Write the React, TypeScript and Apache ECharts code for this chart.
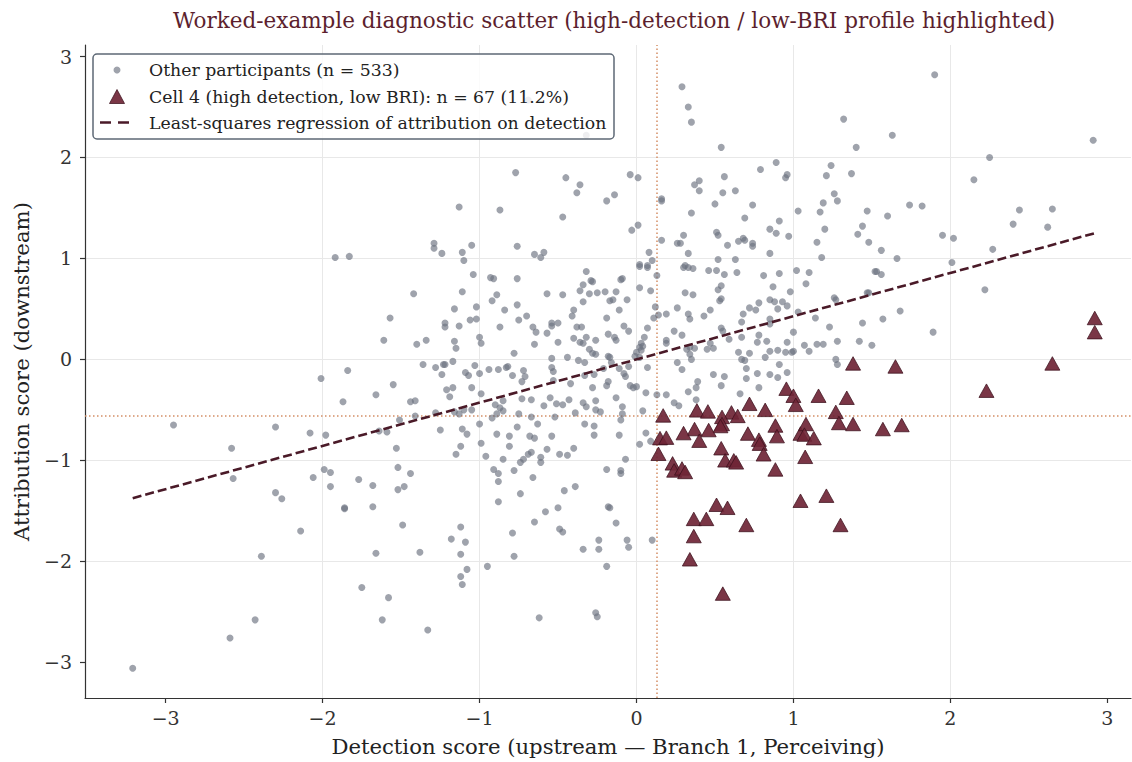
import React, { useEffect, useRef } from "react";
import * as echarts from "echarts";

const titleText =
  "Worked-example diagnostic scatter (high-detection / low-BRI profile highlighted)";
const xAxisName = "Detection score (upstream \u2014 Branch 1, Perceiving)";
const yAxisName = "Attribution score (downstream)";
const legendLabels = [
  "Other participants (n = 533)",
  "Cell 4 (high detection, low BRI): n = 67 (11.2%)",
  "Least-squares regression of attribution on detection",
];

const xTicks = [-3, -2, -1, 0, 1, 2, 3];
const yTicks = [-3, -2, -1, 0, 1, 2, 3];

const detectionCut = 0.134;
const attributionCut = -0.561;

const regressionX = [-3.21, 2.92];
const regressionY = [-1.375, 1.25];

// Other participants (grey circles)
const otherPoints: number[][] = [
  [-0.77,1.85],[-0.45,1.80],[-0.36,1.73],[-0.38,1.65],[-0.19,1.57],[-1.13,1.51],[-0.87,1.48],[-0.47,1.41],[-1.29,1.15],[-1.29,1.10],[-1.24,1.05],[-1.11,1.06],[-1.10,0.98],[-1.05,1.13],[-0.76,1.12],[-0.65,1.04],[-0.61,1.01],[-0.59,1.06],[-1.83,1.02],[-0.69,2.57],[-0.32,2.22],
  [-1.92,1.01],
  [0.29,2.70],[0.33,2.50],[0.35,2.35],[0.54,2.10],[-0.04,1.83],[0.01,1.80],[-0.14,1.63],[0.16,1.59],[0.16,1.57],[0.37,1.73],[0.40,1.77],[0.40,1.67],[0.56,1.81],[0.55,1.65],[0.63,1.67],[0.50,1.54],[0.74,1.53],[0.79,1.88],[0.89,1.95],[0.95,1.80],[0.96,1.83],[0.35,1.45],[0.69,1.40],[1.03,1.47],[-0.03,1.28],[0.01,1.33],[0.51,1.26],[0.52,1.23],[0.30,1.23],[0.26,1.15],[0.28,1.15],[0.16,1.18],[0.33,1.05],[0.08,1.06],[0.10,0.98],[0.02,0.94],[0.07,0.93],[0.31,0.93],[0.58,1.13],[0.65,1.17],[0.68,1.20],[0.69,1.18],[0.74,1.15],[0.74,1.12],[0.85,1.29],[0.89,1.25],[0.91,1.37],[0.97,1.22],[0.85,1.05],[0.52,0.99],[0.63,0.99],[1.17,1.46],[1.19,1.55],[1.21,1.82],[1.24,1.92],[1.37,1.84],[1.32,2.38],[1.40,2.10],[1.26,1.64],[1.28,1.57],[1.47,1.47],[1.20,1.29],[1.15,1.16],[1.18,1.01],[1.41,1.24],[1.44,1.32],[1.48,1.16],
  [1.90,2.82],[1.63,2.22],[2.91,2.17],[2.25,2.00],[2.15,1.78],[1.60,1.42],[1.74,1.53],[1.82,1.52],[1.56,1.08],[1.66,1.00],[1.95,1.23],[2.02,1.20],[2.01,0.96],[2.40,1.34],[2.44,1.48],[2.65,1.49],[2.62,1.31],[2.27,1.09],
  [-2.01,-0.19],[-1.84,-0.11],[-1.87,-0.42],[-2.95,-0.65],[-2.30,-0.67],[-2.08,-0.73],[-1.98,-0.75],[-2.58,-0.88],[-1.99,-1.09],[-1.95,-1.12],[-2.06,-1.17],[-2.57,-1.18],
  [-1.95,-1.26],[-2.30,-1.32],[-2.26,-1.38],[-1.86,-1.48],[-2.14,-1.70],[-2.39,-1.95],[-2.43,-2.58],[-2.59,-2.76],[-3.21,-3.06],
  [-1.04,0.84],[-0.93,0.81],[-0.91,0.80],[-0.76,0.80],[-1.42,0.65],[-1.11,0.67],[-0.89,0.64],[-0.92,0.58],[-0.76,0.54],[-0.57,0.65],[-0.47,0.64],[-0.32,0.87],[-0.34,0.74],[-0.29,0.78],[-0.28,0.77],[-0.36,0.68],[-0.30,0.65],[-0.25,0.66],[-0.20,0.67],[-0.34,0.57],[-1.16,0.50],[-1.02,0.52],[-0.84,0.49],[-0.70,0.43],[-0.75,0.39],[-1.57,0.41],[-1.22,0.36],[-1.22,0.32],[-1.13,0.33],[-1.06,0.39],[-1.02,0.40],[-0.87,0.32],[-0.66,0.32],[-0.64,0.27],[-0.54,0.36],[-0.54,0.33],[-0.50,0.36],[-0.57,0.26],[-0.40,0.49],[-0.41,0.43],[-0.38,0.32],[-0.35,0.32],[-0.19,0.41],[-0.18,0.25],[-1.61,0.19],[-1.40,0.15],[-1.34,0.19],[-1.16,0.18],[-1.15,0.11],[-1.00,0.22],[-0.99,0.16],[-0.65,0.15],[-0.50,0.17],[-0.40,0.21],[-0.36,0.17],[-0.34,0.16],[-0.32,0.22],[-0.26,0.19],[-0.30,0.10],[-0.28,0.06],[-0.26,0.05],[-0.18,0.03],[-0.78,0.06],[-0.54,0.01],[-0.44,0.02],[-0.37,-0.01],[-0.33,-0.03],[-1.36,-0.05],[-1.28,-0.08],[-1.23,-0.05],[-1.22,-0.05],[-1.17,-0.02],[-1.24,-0.15],[-1.09,-0.13],[-1.07,-0.16],[-1.03,-0.06],[-1.00,-0.14],[-0.94,-0.10],[-0.88,-0.10],[-0.83,-0.08],[-0.82,-0.07],[-0.79,-0.16],[-0.72,-0.11],[-0.71,-0.17],[-0.73,-0.22],[-0.54,-0.08],[-0.53,-0.12],[-0.53,-0.21],[-0.33,-0.16],[-0.27,-0.15],[-0.21,-0.09],[-0.18,-0.22],[-0.19,-0.26],[-0.28,-0.28],[-0.42,-0.24],[-1.55,-0.25],[-1.66,-0.35],[-1.44,-0.42],[-1.41,-0.41],[-1.21,-0.30],[-1.17,-0.28],[-1.19,-0.37],[-1.05,-0.28],[-0.99,-0.34],[-0.73,-0.39],[-0.67,-0.40],[-0.59,-0.46],[-0.55,-0.38],[-0.51,-0.44],[-0.47,-0.45],[-0.43,-0.40],[-0.34,-0.43],[-0.32,-0.47],[-0.26,-0.41],[-0.26,-0.50],[-0.23,-0.52],[-0.39,-0.53],[-0.52,-0.57],[-0.67,-0.57],[-0.75,-0.54],[-0.85,-0.41],[-0.90,-0.45],[-0.87,-0.48],[-0.85,-0.51],[-0.89,-0.54],[-0.92,-0.58],[-1.05,-0.50],[-1.10,-0.50],[-1.13,-0.54],[-1.16,-0.52],[-1.28,-0.53],[-1.41,-0.56],[-1.51,-0.60],[-1.64,-0.71],[-1.59,-0.72],[-1.25,-0.70],[-1.11,-0.69],[-1.08,-0.74],[-1.00,-0.64],[-0.89,-0.74],[-0.81,-0.76],[-0.76,-0.67],[-0.63,-0.64],[-0.68,-0.76],[-0.65,-0.78],[-0.54,-0.76],[-0.27,-0.66],[-0.27,-0.75],[-0.33,-0.64],[-1.53,-0.88],[-1.12,-0.86],[-1.15,-0.94],[-0.99,-0.83],[-0.96,-0.96],[-0.81,-0.86],[-0.85,-0.99],[-0.74,-1.02],[-0.72,-0.99],[-0.69,-0.94],[-0.67,-0.92],[-0.61,-0.97],[-0.61,-1.02],[-0.57,-0.89],[-0.49,-0.94],[-0.44,-0.95],[-0.40,-0.88],[-1.52,-1.07],[-1.44,-1.13],[-0.91,-1.09],[-0.88,-1.13],[-0.78,-1.10],[-0.66,-1.17],[-0.19,-1.09],[-1.77,-1.19],
  [-1.68,-1.25],[-1.52,-1.29],[-1.48,-1.26],[-1.86,-1.47],[-1.68,-1.46],[-1.49,-1.64],[-1.66,-1.92],[-1.38,-1.91],[-1.12,-1.66],[-1.18,-1.78],[-1.09,-1.81],[-1.12,-1.93],[-1.08,-2.08],[-1.12,-2.15],[-1.11,-2.23],[-1.75,-2.26],[-1.58,-2.36],[-1.62,-2.58],[-1.33,-2.68],[-0.88,-1.21],[-0.88,-1.41],[-0.74,-1.33],[-0.46,-1.30],[-0.39,-1.26],[-0.58,-1.51],[-0.50,-1.47],[-0.65,-1.61],[-0.49,-1.68],[-0.47,-1.71],[-0.79,-1.72],[-0.78,-1.95],[-0.95,-2.05],[-0.34,-1.88],[-0.24,-1.79],[-0.24,-1.88],[-0.18,-1.46],[-0.19,-2.05],[-0.62,-2.56],[-0.26,-2.51],[-0.25,-2.55],
  [0.02,0.92],[0.07,0.91],[0.13,0.83],[0.30,0.91],[0.33,0.91],[0.36,0.90],[0.46,0.88],[0.51,0.88],[0.56,0.84],[0.64,0.86],[0.81,0.83],[0.91,0.85],[1.02,0.88],[1.10,0.86],[1.08,0.75],[-0.09,0.80],[-0.10,0.79],[-0.13,0.67],[0.02,0.71],[0.09,0.68],[0.31,0.66],[0.36,0.64],[0.54,0.73],[0.52,0.69],[0.87,0.72],[0.98,0.67],[-0.17,0.58],[-0.15,0.59],[-0.06,0.59],[0.53,0.58],[0.54,0.60],[0.78,0.56],[0.72,0.51],[0.76,0.49],[0.85,0.59],[0.88,0.57],[0.93,0.57],[0.96,0.53],[0.90,0.50],[0.12,0.52],[0.26,0.51],[0.47,0.49],[-0.11,0.49],[0.11,0.41],[0.14,0.44],[0.19,0.45],[0.33,0.45],[0.34,0.40],[0.43,0.43],[0.68,0.45],[0.67,0.37],[0.85,0.40],[0.85,0.35],[1.03,0.47],[1.14,0.41],[1.23,0.32],[1.26,0.61],[1.27,0.59],[1.44,0.36],[1.47,0.66],[0.07,0.31],[-0.08,0.33],[-0.05,0.28],[-0.14,0.22],[-0.13,0.19],[0.05,0.22],[0.03,0.16],[0.02,0.12],[0.04,0.13],[0.03,0.09],[0.00,0.07],[-0.01,0.03],[0.02,0.02],[-0.17,0.02],[-0.16,-0.03],[-0.05,-0.07],[-0.11,-0.09],[-0.08,-0.14],[-0.07,-0.17],[0.07,-0.08],[0.19,0.19],[0.19,0.16],[0.24,0.28],[0.29,0.24],[0.32,0.10],[0.34,0.12],[0.37,0.11],[0.34,0.05],[0.35,0.00],[0.26,-0.03],[0.29,-0.10],[0.45,0.10],[0.47,0.16],[0.49,0.11],[0.54,0.31],[0.55,0.28],[0.59,0.20],[0.67,0.22],[0.65,0.07],[0.72,0.06],[0.67,0.00],[0.69,-0.01],[0.70,-0.09],[0.78,0.24],[0.77,0.17],[0.83,0.18],[0.82,0.02],[0.85,0.08],[0.90,0.09],[0.96,0.17],[0.95,0.07],[1.00,0.27],[1.00,0.08],[0.99,0.07],[1.07,0.14],[1.10,0.08],[1.15,0.15],[1.19,0.15],[1.28,0.18],[1.42,0.18],[1.27,0.00],[1.28,-0.05],[0.49,-0.15],[0.56,-0.17],[0.70,-0.19],[0.77,-0.14],[0.85,-0.15],[0.90,-0.18],[0.91,-0.05],[0.96,-0.13],[0.78,-0.28],[0.54,-0.26],[0.39,-0.22],[0.38,-0.28],[0.33,-0.32],[0.19,-0.35],[0.13,-0.35],[0.06,-0.33],[0.00,-0.27],[-0.04,-0.26],[-0.02,-0.28],[-0.13,-0.38],[-0.09,-0.47],[-0.09,-0.54],[-0.10,-0.60],[-0.11,-0.75],[0.04,-0.51],[0.24,-0.43],[0.27,-0.46],[0.38,-0.40],[0.66,-0.34],[0.06,-0.73],[0.02,-0.84],[0.09,-0.81],[-0.07,-0.99],[-0.10,-1.10],[-0.10,-1.13],
  [-0.17,-1.47],[-0.13,-1.62],[-0.06,-1.79],[-0.05,-1.86],[0.10,-1.79],
  [1.52,0.87],[1.53,0.87],[1.56,0.84],[1.48,0.66],[2.22,0.69],[1.68,0.48],[1.57,0.40],[1.89,0.27],[1.50,0.14],
];

// Cell 4 participants (triangles)
const cellPoints: number[][] = [
  [1.38,-0.04],[0.955,-0.29],[1.00,-0.36],[1.015,-0.45],[1.16,-0.36],[1.34,-0.38],[1.27,-0.52],[1.29,-0.63],[1.38,-0.64],[0.72,-0.44],[0.82,-0.50],[0.605,-0.525],[0.645,-0.56],[0.545,-0.57],[0.545,-0.64],[0.535,-0.66],[0.385,-0.505],[0.455,-0.515],[0.17,-0.555],[0.37,-0.69],[0.46,-0.70],[0.30,-0.73],[0.40,-0.805],[0.15,-0.78],[0.19,-0.775],[0.14,-0.935],[0.71,-0.735],[0.78,-0.795],[0.785,-0.835],[0.885,-0.655],[0.895,-0.76],[1.045,-0.735],[1.08,-0.64],[1.07,-0.745],[1.13,-0.78],[1.075,-0.965],[0.81,-0.94],[0.54,-0.88],[0.565,-1.0],[0.62,-1.0],[0.635,-1.02],[0.885,-1.09],[0.23,-1.03],[0.24,-1.10],[0.29,-1.08],[0.31,-1.115],
  [1.65,-0.07],[2.23,-0.31],[2.65,-0.04],[2.92,0.41],[2.92,0.27],[1.57,-0.69],[1.69,-0.65],
  [0.51,-1.44],[0.58,-1.47],[0.365,-1.58],[0.445,-1.58],[0.70,-1.64],[1.045,-1.40],[1.21,-1.35],[1.30,-1.64],[0.365,-1.75],[0.34,-1.98],[0.55,-2.32],
];

const FONT = "DejaVu Serif";
const GREY = "#6b7280";
const MAROON = "#6f2536";
const MAROON_EDGE = "#3a0f1b";
const LINE_COLOR = "#4a1a28";
const REF_COLOR = "#d48e66";

const fmt = (v: number) => (v < 0 ? "\u2212" + Math.abs(v) : String(v));

export default function App() {
  const ref = useRef<HTMLDivElement>(null);
  useEffect(() => {
    if (!ref.current) return;
    const chart = echarts.init(ref.current, null, { renderer: "svg" });
    const axisCommon = {
      type: "value",
      nameLocation: "middle",
      nameTextStyle: { fontFamily: FONT, fontSize: 21.2, color: "#222" },
      axisLine: { show: true, onZero: false, lineStyle: { color: "#333", width: 1.2 } },
      splitLine: {
        show: true,
        showMinLine: false,
        showMaxLine: false,
        lineStyle: { color: "#e8e8e8", width: 1 },
      },
    };
    const legendRows = [70, 96.5, 122.5];
    const option: any = {
      animation: false,
      backgroundColor: "#ffffff",
      grid: { left: 85, right: 1, top: 45, bottom: 64, containLabel: false },
      xAxis: {
        ...axisCommon,
        min: -3.514,
        max: 3.151,
        name: xAxisName,
        nameGap: 38,
        axisTick: { show: true, length: 5, customValues: xTicks, lineStyle: { color: "#333", width: 1.2 } },
        axisLabel: {
          customValues: xTicks,
          formatter: fmt,
          fontFamily: FONT,
          fontSize: 19,
          color: "#333",
          margin: 10,
        },
      },
      yAxis: {
        ...axisCommon,
        min: -3.354,
        max: 3.114,
        name: yAxisName,
        nameGap: 53,
        axisTick: { show: true, length: 5, customValues: yTicks, lineStyle: { color: "#333", width: 1.2 } },
        axisLabel: {
          customValues: yTicks,
          formatter: fmt,
          fontFamily: FONT,
          fontSize: 19,
          color: "#333",
          margin: 13,
        },
      },
      series: [
        {
          name: "refs",
          type: "scatter",
          data: [],
          z: 1,
          silent: true,
          markLine: {
            silent: true,
            symbol: "none",
            z: 1,
            label: { show: false },
            lineStyle: { color: REF_COLOR, width: 1.5, type: [1.5, 2.5] },
            data: [{ xAxis: detectionCut }, { yAxis: attributionCut }],
          },
        },
        {
          name: legendLabels[0],
          type: "scatter",
          data: otherPoints,
          symbol: "circle",
          symbolSize: 7,
          z: 2,
          itemStyle: { color: GREY, opacity: 0.65 },
        },
        {
          name: legendLabels[1],
          type: "scatter",
          data: cellPoints,
          symbol: "triangle",
          symbolSize: [15, 13.5],
          z: 3,
          itemStyle: { color: MAROON, opacity: 0.92, borderColor: MAROON_EDGE, borderWidth: 0.8 },
        },
        {
          name: legendLabels[2],
          type: "line",
          data: regressionX.map((x, i) => [x, regressionY[i]]),
          showSymbol: false,
          symbol: "none",
          z: 4,
          lineStyle: { color: LINE_COLOR, width: 2.6, type: [9, 4] },
        },
      ],
      graphic: [
        {
          type: "text",
          x: 614,
          y: 20,
          z: 100,
          style: {
            text: titleText,
            fontFamily: FONT,
            fontSize: 21.5,
            fill: "#5c1f2e",
            textAlign: "center",
            textVerticalAlign: "middle",
          },
        },
        {
          type: "rect",
          z: 100,
          shape: { x: 93, y: 54, width: 521, height: 85, r: 4 },
          style: { fill: "rgba(255,255,255,0.82)", stroke: "#5d6875", lineWidth: 1.5 },
        },
        {
          type: "circle",
          z: 101,
          shape: { cx: 117, cy: 70, r: 3.5 },
          style: { fill: GREY, opacity: 0.65 },
        },
        {
          type: "polygon",
          z: 101,
          shape: { points: [[117, 89.5], [109.5, 103.5], [124.5, 103.5]] },
          style: { fill: MAROON, opacity: 0.92, stroke: MAROON_EDGE, lineWidth: 0.8 },
        },
        {
          type: "line",
          z: 101,
          shape: { x1: 100, y1: 122.5, x2: 131, y2: 122.5 },
          style: { stroke: LINE_COLOR, lineWidth: 2.6, lineDash: [11, 7] },
        },
        ...legendLabels.map((t, i) => ({
          type: "text",
          x: 149,
          y: legendRows[i],
          z: 101,
          style: {
            text: t,
            fontFamily: FONT,
            fontSize: 17.3,
            fill: "#222",
            textVerticalAlign: "middle",
          },
        })),
      ],
    };
    chart.setOption(option);
    return () => chart.dispose();
  }, []);
  return (
    <div
      ref={ref}
      style={{ position: "fixed", left: 0, top: 0, width: 1132, height: 762, background: "#fff" }}
    />
  );
}
